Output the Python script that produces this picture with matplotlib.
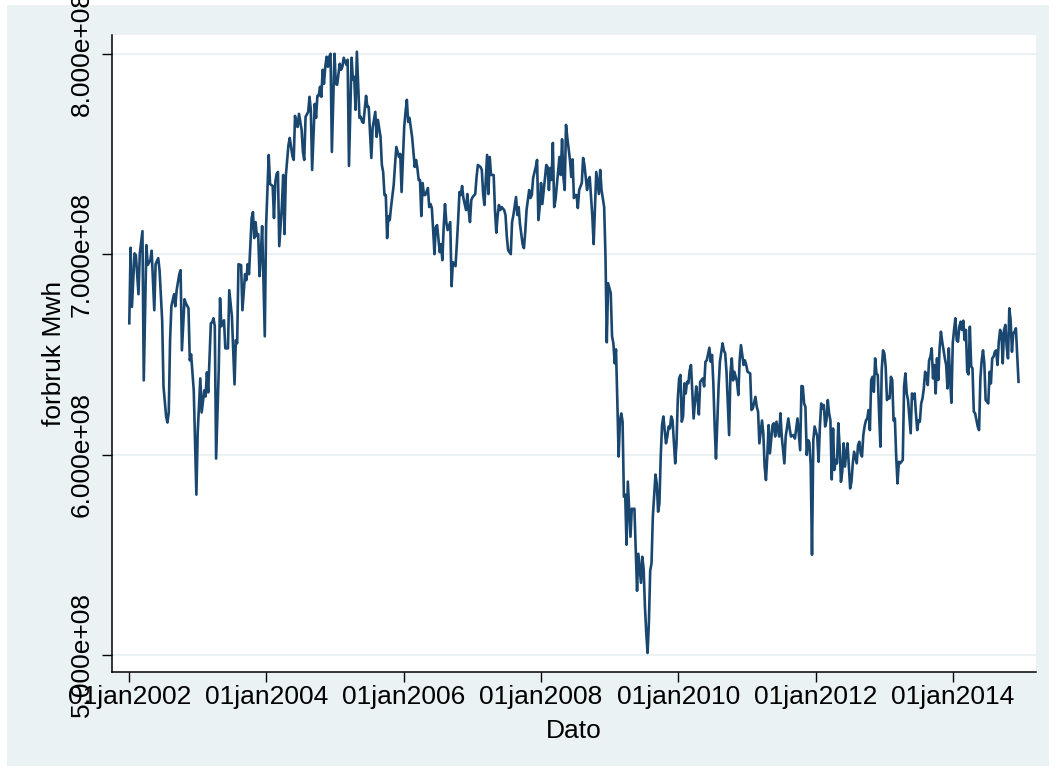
"""
Weekly electricity consumption (forbruk Mwh), 2002-2014, Stata style line plot
"""

#import dependancies
import numpy as np
import pandas as pd
import matplotlib
matplotlib.use("Agg")
import matplotlib.pyplot as plt
from matplotlib.patches import Rectangle
from matplotlib.ticker import FuncFormatter

#data: week number since 01jan2002 and consumption (units of 1e8 Mwh)
weeks = [
    0, 1, 2, 4, 5, 7, 8, 10, 11, 13, 14, 16, 17, 19, 20, 22, 23, 25, 26, 28,
    29, 30, 31, 32, 34, 35, 36, 38, 39, 40, 42, 43, 45, 46, 47, 49, 51, 52, 54, 55,
    57, 58, 59, 60, 62, 63, 64, 65, 66, 68, 69, 70, 72, 73, 75, 76, 78, 80, 81, 82,
    83, 85, 86, 88, 89, 90, 91, 93, 94, 95, 96, 97, 98, 99, 100, 101, 103, 104, 105, 106,
    107, 109, 110, 111, 112, 113, 114, 116, 117, 118, 119, 120, 121, 122, 124, 125, 126, 127, 128, 129,
    131, 132, 133, 134, 136, 137, 138, 139, 141, 142, 143, 144, 145, 146, 147, 148, 149, 150, 151, 152,
    153, 154, 156, 157, 158, 160, 161, 162, 163, 165, 166, 167, 169, 170, 171, 172, 173, 175, 176, 177,
    178, 180, 181, 182, 184, 185, 187, 188, 189, 191, 192, 193, 194, 195, 196, 197, 198, 199, 201, 202,
    203, 205, 206, 207, 209, 210, 211, 212, 213, 215, 217, 218, 219, 220, 221, 222, 223, 224, 225, 227,
    228, 229, 230, 231, 232, 233, 234, 236, 237, 238, 239, 240, 241, 242, 244, 245, 246, 248, 249, 250,
    251, 252, 253, 254, 256, 257, 258, 259, 260, 261, 263, 264, 265, 267, 268, 269, 270, 272, 273, 274,
    275, 277, 278, 279, 280, 281, 282, 283, 285, 286, 287, 288, 290, 291, 292, 294, 295, 296, 297, 299,
    300, 301, 302, 304, 305, 306, 307, 309, 310, 311, 312, 313, 314, 316, 317, 318, 319, 320, 321, 322,
    323, 324, 326, 327, 328, 329, 330, 331, 332, 333, 335, 336, 337, 338, 339, 340, 341, 342, 344, 345,
    346, 347, 348, 349, 350, 352, 353, 354, 355, 357, 358, 359, 361, 362, 363, 364, 366, 367, 368, 369,
    370, 371, 372, 373, 374, 375, 376, 377, 378, 379, 381, 382, 383, 384, 385, 386, 387, 389, 390, 391,
    392, 393, 394, 395, 396, 397, 398, 400, 401, 402, 403, 404, 405, 406, 408, 409, 410, 411, 412, 413,
    415, 416, 417, 418, 419, 420, 421, 422, 423, 424, 425, 426, 427, 429, 431, 432, 433, 434, 436, 437,
    438, 439, 441, 442, 443, 444, 445, 446, 448, 449, 451, 452, 453, 454, 456, 457, 458, 459, 460, 462,
    463, 464, 465, 467, 468, 469, 470, 472, 473, 474, 476, 477, 478, 479, 481, 482, 483, 484, 485, 486,
    487, 489, 490, 491, 492, 494, 495, 496, 498, 499, 501, 502, 503, 505, 506, 507, 508, 510, 511, 512,
    513, 514, 515, 516, 517, 518, 519, 520, 521, 523, 524, 525, 526, 527, 528, 529, 530, 531, 532, 533,
    534, 535, 536, 537, 538, 539, 540, 541, 542, 543, 544, 545, 546, 547, 548, 549, 550, 551, 553, 554,
    555, 556, 557, 558, 559, 560, 561, 562, 563, 564, 565, 566, 567, 568, 569, 570, 571, 572, 573, 574,
    575, 576, 577, 578, 579, 580, 581, 582, 583, 584, 585, 586, 588, 589, 590, 591, 592, 593, 594, 595,
    596, 597, 598, 599, 600, 601, 602, 603, 604, 605, 606, 607, 608, 609, 610, 611, 612, 613, 614, 615,
    616, 617, 618, 620, 621, 622, 623, 624, 625, 626, 627, 628, 629, 630, 631, 632, 633, 634, 635, 636,
    637, 638, 639, 640, 641, 642, 643, 644, 645, 646, 647, 648, 649, 650, 651, 652, 653, 654, 655, 656,
    657, 658, 659, 660, 661, 662, 663, 664, 665, 666, 667, 668, 669, 670, 671, 672, 673, 674, 676,
]

forbruk = [
    6.655, 7.032, 6.737, 7.004, 6.995, 6.80, 7.004, 7.115, 6.37, 7.045, 6.946, 6.97, 7.017, 6.72, 6.95, 6.98, 6.92, 6.67, 6.34, 6.19,
    6.16, 6.21, 6.57, 6.74, 6.80, 6.74, 6.82, 6.90, 6.92, 6.52, 6.775, 6.755, 6.73, 6.47, 6.50, 6.32, 5.80, 6.11, 6.38, 6.21,
    6.32, 6.29, 6.41, 6.31, 6.655, 6.66, 6.68, 6.64, 5.98, 6.42, 6.78, 6.64, 6.67, 6.53, 6.53, 6.82, 6.69, 6.35, 6.57, 6.555,
    6.95, 6.945, 6.72, 6.90, 6.87, 6.95, 6.90, 7.18, 7.21, 7.08, 7.16, 7.09, 7.10, 6.89, 7.00, 7.14, 6.59, 7.14, 7.32, 7.495,
    7.35, 7.34, 7.18, 7.36, 7.40, 7.41, 7.04, 7.24, 7.395, 7.10, 7.39, 7.47, 7.545, 7.58, 7.49, 7.47, 7.69, 7.64, 7.635, 7.70,
    7.62, 7.51, 7.47, 7.685, 7.71, 7.785, 7.72, 7.42, 7.75, 7.68, 7.79, 7.79, 7.835, 7.785, 7.92, 7.85, 7.935, 7.985, 7.935, 7.985,
    8.00, 7.51, 8.00, 7.85, 7.845, 7.95, 7.92, 7.935, 7.98, 7.945, 7.97, 7.44, 7.98, 7.87, 7.885, 7.72, 8.01, 7.68, 7.685, 7.66,
    7.655, 7.79, 7.735, 7.735, 7.48, 7.63, 7.71, 7.585, 7.67, 7.585, 7.445, 7.41, 7.295, 7.295, 7.08, 7.19, 7.17, 7.235, 7.345, 7.445,
    7.535, 7.485, 7.50, 7.31, 7.635, 7.71, 7.77, 7.66, 7.68, 7.585, 7.435, 7.47, 7.43, 7.37, 7.37, 7.19, 7.355, 7.295, 7.295, 7.33,
    7.235, 7.25, 7.23, 7.12, 7.00, 7.135, 7.145, 7.01, 7.05, 6.97, 7.135, 7.25, 7.16, 7.12, 7.16, 6.84, 6.96, 6.94, 7.05, 7.17,
    7.31, 7.295, 7.34, 7.28, 7.22, 7.30, 7.22, 7.16, 7.27, 7.285, 7.30, 7.385, 7.445, 7.435, 7.42, 7.30, 7.245, 7.495, 7.30, 7.485,
    7.395, 7.395, 7.22, 7.107, 7.19, 7.245, 7.22, 7.235, 7.22, 7.195, 7.087, 7.02, 7.00, 7.16, 7.195, 7.285, 7.195, 7.235, 7.15, 7.05,
    7.03, 7.11, 7.22, 7.32, 7.28, 7.295, 7.38, 7.435, 7.47, 7.17, 7.235, 7.355, 7.25, 7.38, 7.445, 7.435, 7.32, 7.43, 7.37, 7.555,
    7.235, 7.27, 7.41, 7.485, 7.395, 7.573, 7.385, 7.32, 7.645, 7.58, 7.47, 7.385, 7.473, 7.28, 7.295, 7.295, 7.23, 7.32, 7.355, 7.48,
    7.445, 7.385, 7.32, 7.37, 7.385, 7.19, 7.05, 7.235, 7.41, 7.30, 7.42, 7.32, 7.235, 6.99, 6.56, 6.855, 6.805, 6.59, 6.555, 6.455,
    6.525, 6.27, 5.99, 6.17, 6.205, 6.165, 5.79, 5.80, 5.55, 5.865, 5.59, 5.73, 5.727, 5.73, 5.52, 5.32, 5.505, 5.36, 5.49, 5.43,
    5.24, 5.11, 5.01, 5.16, 5.42, 5.457, 5.69, 5.90, 5.856, 5.715, 5.756, 5.99, 6.147, 6.19, 6.056, 6.09, 6.14, 6.13, 6.19, 6.17,
    5.956, 6.056, 6.28, 6.38, 6.397, 6.164, 6.19, 6.355, 6.305, 6.363, 6.355, 6.42, 6.447, 6.18, 6.34, 6.28, 6.20, 6.363, 6.38, 6.34,
    6.463, 6.47, 6.533, 6.463, 6.497, 6.355, 6.14, 5.98, 6.34, 6.463, 6.555, 6.52, 6.505, 6.413, 6.097, 6.405, 6.48, 6.37, 6.413, 6.363,
    6.297, 6.47, 6.546, 6.447, 6.47, 6.447, 6.413, 6.405, 6.222, 6.23, 6.288, 6.238, 6.214, 6.056, 6.17, 6.105, 5.94, 5.873, 5.99, 6.147,
    6.006, 6.147, 6.156, 6.09, 6.164, 6.09, 6.206, 6.09, 5.956, 6.09, 6.18, 6.13, 6.09, 6.097, 6.08, 6.13, 6.18, 6.022, 6.342, 6.34,
    6.255, 6.238, 5.998, 6.072, 6.06, 5.95, 5.50, 6.072, 6.14, 6.09, 5.964, 6.14, 6.255, 6.23, 6.247, 6.14, 6.17, 6.272, 6.206, 6.17,
    5.876, 6.13, 5.923, 5.973, 5.956, 6.156, 6.039, 5.864, 5.914, 6.056, 5.94, 6.006, 6.056, 5.948, 5.831, 5.864, 5.956, 6.014, 5.956, 6.047,
    6.064, 6.006, 5.99, 6.097, 6.142, 6.17, 6.18, 6.222, 6.122, 6.372, 6.388, 6.313, 6.48, 6.405, 6.397, 6.206, 6.039, 6.422, 6.52, 6.505,
    6.438, 6.272, 6.288, 6.28, 6.388, 6.372, 6.17, 6.18, 5.99, 5.856, 5.964, 5.956, 5.973, 6.34, 6.405, 6.305, 6.272, 6.19, 6.106, 6.305,
    6.28, 6.305, 6.206, 6.122, 6.17, 6.164, 6.255, 6.28, 6.33, 6.413, 6.397, 6.347, 6.47, 6.488, 6.53, 6.38, 6.447, 6.305, 6.48, 6.372,
    6.53, 6.613, 6.563, 6.48, 6.447, 6.33, 6.53, 6.372, 6.258, 6.555, 6.622, 6.68, 6.571, 6.563, 6.638, 6.663, 6.622, 6.668, 6.571, 6.622,
    6.413, 6.40, 6.638, 6.44, 6.43, 6.214, 6.206, 6.172, 6.139, 6.122, 6.38, 6.47, 6.52, 6.455, 6.272, 6.264, 6.255, 6.413, 6.355, 6.48,
    6.488, 6.513, 6.52, 6.447, 6.563, 6.622, 6.605, 6.455, 6.622, 6.647, 6.538, 6.48, 6.73, 6.671, 6.513, 6.605, 6.613, 6.63, 6.363,
]

#axis ticks
tick_years = [2002, 2004, 2006, 2008, 2010, 2012, 2014]
ytick_vals = [5e8, 6e8, 7e8, 8e8]

#build the series
dato = pd.Timestamp("2002-01-01") + pd.to_timedelta(np.array(weeks) * 7, unit="D")
mwh = np.array(forbruk) * 1e8

#stata s2color look
bg = "#EAF2F3"
navy = "#1A476F"
plt.rcParams["font.family"] = ["Liberation Sans", "DejaVu Sans"]
plt.rcParams["font.size"] = 19

fig = plt.figure(figsize=(10.56, 7.72), dpi=100, facecolor="white")
#outer graph region, drawn behind the axes
fig.add_artist(Rectangle((7 / 1056, 6 / 772), 1042 / 1056, 761 / 772,
                         transform=fig.transFigure, facecolor=bg, edgecolor="none", zorder=-10))

ax = fig.add_axes([112 / 1056, 1 - 672 / 772, 924 / 1056, 637.3 / 772])
ax.set_facecolor("white")
ax.set_zorder(1)

ax.plot(dato, mwh, color=navy, lw=1.9, solid_joinstyle="round", zorder=3)

#limits
ax.set_xlim(pd.Timestamp("2001-10-01"), pd.Timestamp("2015-03-19"))
ax.set_ylim(4.915e8, 8.095e8)

#gridlines
ax.set_yticks(ytick_vals)
ax.grid(axis="y", color=bg, lw=1.4, zorder=1)
ax.grid(axis="x", visible=False)

#ticks and labels
ax.set_xticks([pd.Timestamp(f"{y}-01-01") for y in tick_years])
ax.set_xticklabels([f"01jan{y}" for y in tick_years])
ax.yaxis.set_major_formatter(FuncFormatter(lambda v, p: f"{v:.3e}"))
ax.tick_params(axis="both", direction="out", length=7, width=1, color="black", labelsize=19)
ax.tick_params(axis="x", pad=2.5)
ax.tick_params(axis="y", pad=6)
for lab in ax.get_yticklabels():
    lab.set_rotation(90)
    lab.set_va("center")

for side in ["top", "right"]:
    ax.spines[side].set_visible(False)
for side in ["left", "bottom"]:
    ax.spines[side].set_linewidth(1.1)
    ax.spines[side].set_color("black")

ax.set_xlabel("Dato", fontsize=19)
ax.set_ylabel("forbruk Mwh", fontsize=19)
ax.xaxis.set_label_coords(0.5, -0.074)
ax.yaxis.set_label_coords(-0.05, 0.5)

fig.savefig("out.png", dpi=100, facecolor="white")
